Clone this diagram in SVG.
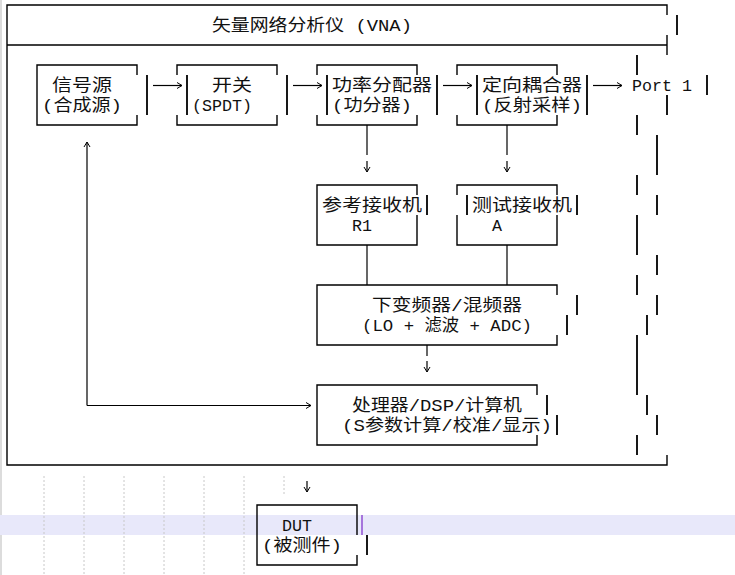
<svg xmlns="http://www.w3.org/2000/svg" width="735" height="575" viewBox="0 0 735 575">
<defs>
<marker id="ah" markerUnits="userSpaceOnUse" markerWidth="8" markerHeight="8" refX="6" refY="4" orient="auto">
<path d="M1,1 L6,4 L1,7" fill="none" stroke="#000" stroke-width="1"/>
</marker>
<style>
.ln{fill:none;stroke:#000;stroke-width:1.4}
.bar{fill:none;stroke:#000;stroke-width:1.8}
.cn{fill:none;stroke:#000;stroke-width:1.2}
.t{font-family:"Liberation Mono","Noto Sans CJK SC",monospace;font-size:16.7px;fill:#111}
.dot{stroke:#c8c8c8;stroke-width:1;stroke-dasharray:2 2}
</style>
</defs>
<rect width="735" height="575" fill="#fff"/>
<rect x="0" y="0" width="2" height="575" fill="#dcdcdc"/>
<rect x="0" y="515" width="735" height="20" fill="#e8e8fa"/>
<g id="grid">
<line class="dot" x1="44" y1="476" x2="44" y2="575"/>
<line class="dot" x1="84" y1="476" x2="84" y2="575"/>
<line class="dot" x1="124" y1="476" x2="124" y2="575"/>
<line class="dot" x1="164" y1="476" x2="164" y2="575"/>
<line class="dot" x1="204" y1="476" x2="204" y2="575"/>
<line class="dot" x1="244" y1="476" x2="244" y2="575"/>
<line class="dot" x1="284" y1="476" x2="284" y2="496"/>
</g>
<g id="vna">
<path class="ln" d="M667,15 V5 H7 V465 H667 V455 M7,45 H667 M667,35 V55"/>
<path class="bar" d="M677,15 V35"/>
<text class="t" x="212" y="31" textLength="200" lengthAdjust="spacingAndGlyphs">矢量网络分析仪 (VNA)</text>
</g>
<g id="port">
<path class="bar" d="M637,55 V75 M707,75 V95 M667,95 V115 M637,115 V135 M657,135 V175 M637,175 V195 M657,195 V215 M637,215 V255 M657,255 V275 M637,275 V295 M657,295 V315 M647,315 V335 M637,335 V395 M647,395 V415 M657,415 V435 M637,435 V455"/>
<text class="t" x="632" y="91" textLength="60" lengthAdjust="spacingAndGlyphs">Port 1</text>
</g>
<g id="source">
<path class="ln" d="M137,75 V65 H37 V125 H137 V115"/>
<path class="bar" d="M147,75 V115"/>
<text class="t" x="52" y="91" textLength="60" lengthAdjust="spacingAndGlyphs">信号源</text>
<text class="t" x="42" y="111" textLength="80" lengthAdjust="spacingAndGlyphs">(合成源)</text>
</g>
<g id="switch">
<path class="ln" d="M177,75 V65 H277 V75 M177,115 V125 H277 V115"/>
<path class="bar" d="M187,75 V115 M287,75 V115"/>
<text class="t" x="212" y="91" textLength="40" lengthAdjust="spacingAndGlyphs">开关</text>
<text class="t" x="192" y="111" textLength="60" lengthAdjust="spacingAndGlyphs">(SPDT)</text>
</g>
<g id="splitter">
<path class="ln" d="M317,75 V65 H417 V75 M317,115 V125 H417 V115"/>
<path class="bar" d="M327,75 V115 M437,75 V115"/>
<text class="t" x="332" y="91" textLength="100" lengthAdjust="spacingAndGlyphs">功率分配器</text>
<text class="t" x="332" y="111" textLength="80" lengthAdjust="spacingAndGlyphs">(功分器)</text>
</g>
<g id="coupler">
<path class="ln" d="M457,75 V65 H557 V75 M457,115 V125 H557 V115"/>
<path class="bar" d="M477,75 V115 M587,75 V115"/>
<text class="t" x="482" y="91" textLength="100" lengthAdjust="spacingAndGlyphs">定向耦合器</text>
<text class="t" x="482" y="111" textLength="100" lengthAdjust="spacingAndGlyphs">(反射采样)</text>
</g>
<g id="refrx">
<path class="ln" d="M417,195 V185 H317 V245 H417 V215"/>
<path class="bar" d="M427,195 V215"/>
<text class="t" x="322" y="211" textLength="100" lengthAdjust="spacingAndGlyphs">参考接收机</text>
<text class="t" x="352" y="231" textLength="20" lengthAdjust="spacingAndGlyphs">R1</text>
</g>
<g id="testrx">
<path class="ln" d="M457,195 V185 H557 V195 M457,215 V245 H557 V215"/>
<path class="bar" d="M467,195 V215 M577,195 V215"/>
<text class="t" x="472" y="211" textLength="100" lengthAdjust="spacingAndGlyphs">测试接收机</text>
<text class="t" x="492" y="231" textLength="10" lengthAdjust="spacingAndGlyphs">A</text>
</g>
<g id="mixer">
<path class="ln" d="M557,295 V285 H317 V345 H557 V335"/>
<path class="bar" d="M577,295 V315 M567,315 V335"/>
<text class="t" x="372" y="311" textLength="150" lengthAdjust="spacingAndGlyphs">下变频器/混频器</text>
<text class="t" x="362" y="331" textLength="170" lengthAdjust="spacingAndGlyphs">(LO + 滤波 + ADC)</text>
</g>
<g id="processor">
<path class="ln" d="M537,395 V385 H317 V445 H537 V435"/>
<path class="bar" d="M547,395 V415 M557,415 V435"/>
<text class="t" x="352" y="411" textLength="170" lengthAdjust="spacingAndGlyphs">处理器/DSP/计算机</text>
<text class="t" x="342" y="431" textLength="210" lengthAdjust="spacingAndGlyphs">(S参数计算/校准/显示)</text>
</g>
<g id="dut">
<path class="ln" d="M357,535 V505 H257 V565 H357 V555"/>
<path class="bar" d="M367,535 V555"/>
<path d="M362,515 V535" stroke="#7a28c8" stroke-width="1.2"/>
<text class="t" x="282" y="531" textLength="30" lengthAdjust="spacingAndGlyphs">DUT</text>
<text class="t" x="262" y="551" textLength="80" lengthAdjust="spacingAndGlyphs">(被测件)</text>
</g>
<g id="connectors">
<line class="cn" x1="153" y1="85.5" x2="182" y2="85.5" marker-end="url(#ah)"/>
<line class="cn" x1="293" y1="85.5" x2="322" y2="85.5" marker-end="url(#ah)"/>
<line class="cn" x1="443" y1="85.5" x2="472" y2="85.5" marker-end="url(#ah)"/>
<line class="cn" x1="593" y1="85.5" x2="622" y2="85.5" marker-end="url(#ah)"/>
<line class="cn" x1="367" y1="125" x2="367" y2="155"/>
<line class="cn" x1="367" y1="161" x2="367" y2="172" marker-end="url(#ah)"/>
<line class="cn" x1="507" y1="125" x2="507" y2="155"/>
<line class="cn" x1="507" y1="161" x2="507" y2="172" marker-end="url(#ah)"/>
<line class="cn" x1="367" y1="245" x2="367" y2="285"/>
<line class="cn" x1="507" y1="245" x2="507" y2="285"/>
<line class="cn" x1="427" y1="345" x2="427" y2="356"/>
<line class="cn" x1="427" y1="361" x2="427" y2="372" marker-end="url(#ah)"/>
<polyline class="cn" points="87,405.5 87,142" marker-end="url(#ah)"/>
<line class="cn" x1="87" y1="405.5" x2="311" y2="405.5" marker-end="url(#ah)"/>
<line class="cn" x1="307" y1="481" x2="307" y2="492" marker-end="url(#ah)"/>
</g>
</svg>
